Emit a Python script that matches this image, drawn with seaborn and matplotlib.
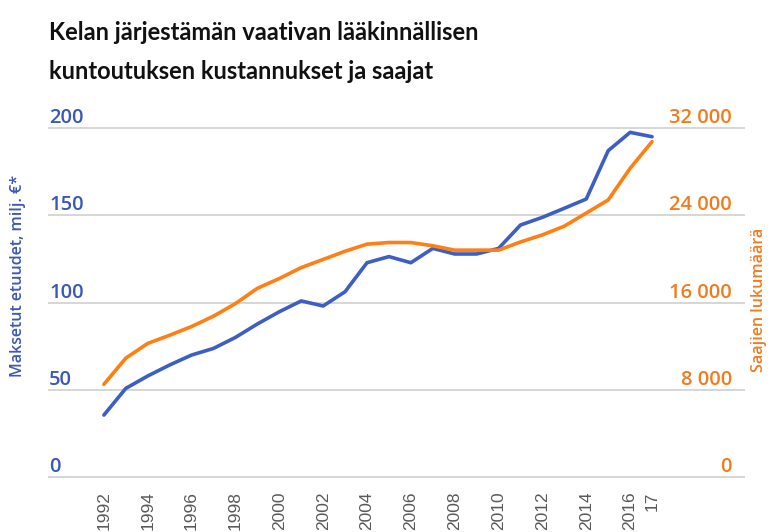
import matplotlib
matplotlib.use("Agg")
import matplotlib.pyplot as plt
import seaborn as sns
import pandas as pd

# Kelan vaativa lääkinnällinen kuntoutus 1992-2017
years = list(range(1992, 2018))
costs_meur = [35.5, 50.8, 57.9, 64.2, 69.9, 73.7, 80.0, 87.7, 94.7, 100.9,
              98.0, 106.2, 122.8, 126.3, 122.8, 131.0, 127.8, 127.8, 131.0, 144.4,
              148.8, 154.0, 159.3, 187.0, 197.5, 195.0]
recipients = [8500, 10900, 12250, 13000, 13800, 14750, 15900, 17300, 18200, 19200,
              19950, 20700, 21350, 21500, 21500, 21200, 20800, 20800, 20800, 21550,
              22200, 23000, 24200, 25400, 28300, 30750]
left_ticks = [0, 50, 100, 150, 200]
right_ticks = [0, 8000, 16000, 24000, 32000]
right_labels = ["0", "8 000", "16 000", "24 000", "32 000"]
xtick_years = list(range(1992, 2017, 2)) + [2017]
xtick_labels = [str(y) for y in range(1992, 2017, 2)] + ["17"]

BLUE = "#3D5EC2"
BLUE_TXT = "#3A58B5"
ORANGE = "#FF7F12"
ORANGE_TXT = "#F07C1F"
GRID = "#D6D6D6"
GRAY_TXT = "#595959"

df = pd.DataFrame({"vuosi": years, "kustannukset": costs_meur, "saajat": recipients})

sns.set_style("white")
plt.rcParams["font.family"] = ["Open Sans", "DejaVu Sans"]

W, H = 771, 532
fig = plt.figure(figsize=(W / 100, H / 100), dpi=100)

# axes box in pixels: x 48..745, y value 0 at 477, 200 at 128 (with small margin)
px_per_unit = (477 - 128) / 200
pad = 2
y_bot = 477 + pad * px_per_unit
y_top = 128 - pad * px_per_unit
ax = fig.add_axes([48 / W, 1 - y_bot / H, (745 - 48) / W, (y_bot - y_top) / H])
ax2 = ax.twinx()

sns.lineplot(data=df, x="vuosi", y="kustannukset", ax=ax, color=BLUE, linewidth=2.6)
sns.lineplot(data=df, x="vuosi", y="saajat", ax=ax2, color=ORANGE, linewidth=2.6)

ax.set_ylim(-pad, 200 + pad)
ax2.set_ylim(-pad * 160, 32000 + pad * 160)
ax.set_xlim(1989.45, 2021.24)

for a in (ax, ax2):
    for s in a.spines.values():
        s.set_visible(False)
    a.set_ylabel("")
    a.set_yticks([])
ax.set_xlabel("")

for v in left_ticks:
    ax.axhline(v, color=GRID, linewidth=1.4, zorder=0)

ax.set_xticks(xtick_years)
ax.set_xticklabels(xtick_labels, rotation=90, va="top", ha="center",
                   fontfamily=["Liberation Sans", "DejaVu Sans"], fontsize=12.5, color=GRAY_TXT)
ax.tick_params(axis="x", length=0, pad=8)

# value labels above the gridlines
for v in left_ticks:
    ax.annotate(str(v), xy=(0, v), xycoords=("axes fraction", "data"),
                xytext=(1, 5), textcoords="offset pixels", ha="left", va="baseline",
                fontsize=14.5, fontweight="semibold", color=BLUE_TXT)
for v, lab in zip(right_ticks, right_labels):
    ax2.annotate(lab, xy=((732 - 48) / (745 - 48), v), xycoords=("axes fraction", "data"),
                 xytext=(0, 5), textcoords="offset pixels", ha="right", va="baseline",
                 fontsize=14.5, fontweight="semibold", color=ORANGE_TXT)

fig.text(18 / W, 1 - 276 / H, "Maksetut etuudet, milj. €*", rotation=90,
         ha="center", va="center", fontsize=11.5, fontweight="semibold", color=BLUE_TXT)
fig.text(759 / W, 1 - 300 / H, "Saajien lukumäärä", rotation=90,
         ha="center", va="center", fontsize=11.5, fontweight="semibold", color=ORANGE_TXT)

title_font = ["Lato", "DejaVu Sans"]
fig.text(49 / W, 1 - 40 / H, "Kelan järjestämän vaativan lääkinnällisen",
         ha="left", va="baseline", fontsize=17, fontweight="bold",
         fontfamily=title_font, color="#111111")
fig.text(49 / W, 1 - 79 / H, "kuntoutuksen kustannukset ja saajat",
         ha="left", va="baseline", fontsize=17, fontweight="bold",
         fontfamily=title_font, color="#111111")

fig.savefig("out.png", dpi=100)
